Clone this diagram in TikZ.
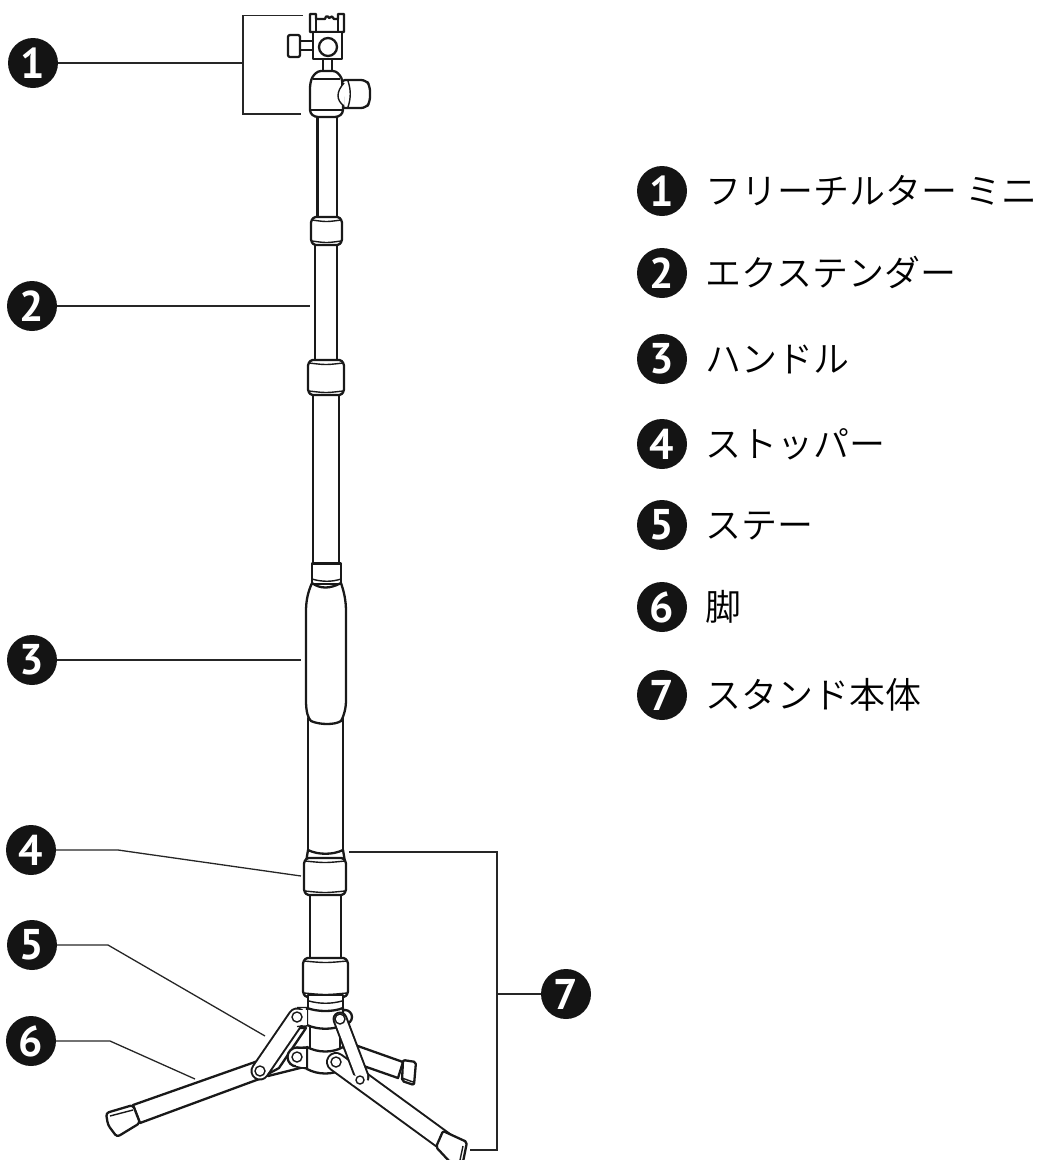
\documentclass[tikz,border=0pt]{standalone}
\usepackage{fontspec}
\newfontfamily\cjk{Noto Sans CJK JP DemiLight}
\newfontfamily\numfont{PT Sans}[BoldFont={PT Sans Bold}]
\usetikzlibrary{calc}
\tikzset{
  bubble/.style={circle,fill=black!92,text=white,minimum size=50pt,inner sep=0pt,font=\numfont\bfseries\fontsize{43}{43}\selectfont},
  itemlabel/.style={anchor=base west,inner sep=0pt,font=\cjk\fontsize{36}{36}\selectfont},
  leader/.style={draw=black!85,line width=1.3pt},
  part/.style={draw=black!90,line width=2.3pt,fill=white,line join=round},
  thin part/.style={draw=black!90,line width=1.4pt},
}
\newcommand{\collarpart}[4]{%
  \draw[part,rounded corners=1.5pt] ({#1+3},{#3}) -- ({#2-3},{#3}) -- ({#2},{#3+4}) -- ({#2},{#4-4}) -- ({#2-3},{#4}) -- ({#1+3},{#4}) -- ({#1},{#4-4}) -- ({#1},{#3+4}) -- cycle;
  \draw[thin part] ({#1+1},{#3+3}) .. controls ({(#1+#2)/2},{#3+5}) .. ({#2-1},{#3+3});
  \draw[thin part] ({#1+1},{#4-4}) .. controls ({(#1+#2)/2},{#4-2}) .. ({#2-1},{#4-4});
}
\newcommand{\tubepart}[4]{\draw[part] (#1,#3) rectangle (#2,#4);}
\newcommand{\barpart}[3]{%
  \draw[line width=#3+4pt,black!90,line cap=round] #1 -- #2;
  \draw[line width=#3,white,line cap=round] #1 -- #2;
}
\begin{document}
\begin{tikzpicture}[x=1pt,y=-1pt]
\useasboundingbox (0,0) rectangle (1040,1160);
% ---- leaders' free ends
\coordinate (b1a) at (303,15.5); \coordinate (b1b) at (243,15.5);
\coordinate (b1c) at (243,114);  \coordinate (b1d) at (301,114);
\coordinate (b1m) at (243,63);
\coordinate (e2) at (310,306);
\coordinate (e3) at (301,660);
\coordinate (k4) at (118,850); \coordinate (e4) at (301,876);
\coordinate (k5) at (108,945); \coordinate (e5) at (265,1036);
\coordinate (k6) at (110,1041); \coordinate (e6) at (195,1079);
\coordinate (b7a) at (349,852); \coordinate (b7b) at (497,852);
\coordinate (b7c) at (497,1150); \coordinate (b7d) at (470,1150);
\coordinate (b7m) at (497,994);
% ---- tubes
\tubepart{317.5}{337}{110}{220}
\tubepart{315}{337}{243}{362}
\tubepart{313}{339}{392}{566}
\tubepart{308}{343}{718}{854}
\tubepart{310}{341}{892}{962}
% head
\draw[part] (310,14) -- (316,14) -- (316,19) -- (325,19) -- (326,16.5) -- (328,16.5) -- (329,18) -- (332,16.5) -- (334,19) -- (338,19) -- (338,14) -- (344,14) -- (344,32) -- (310,32) -- cycle;
\draw[thin part] (316,19) -- (316,32) (338,19) -- (338,32);
\draw[part] (300,41) rectangle (313,50);
\draw[part,rounded corners=2pt] (288,35) rectangle (300,57);
\draw[part] (323,57) rectangle (332,72);
\draw[part] (313,32) rectangle (342,59);
\draw[part] (328,47) circle (9);
\draw[part,rounded corners=5pt] (340,80) -- (366,80) -- (370,86) -- (370,102) -- (366,108) -- (340,108) -- cycle;
\draw[part,rounded corners=3pt] (318,71) -- (336,71) -- (342,78) -- (343,100) -- (343,113) -- (338,117) -- (315,117) -- (310,113) -- (310,85) -- (312,77) -- cycle;
\draw[thin part] (313,79) -- (340,79);
\draw[thin part] (311,110) -- (342,110);
\draw[thin part,fill=white] (344,83) .. controls (336,92) and (336,100) .. (344,106);
\draw[thin part] (348,81) .. controls (351,90) and (351,98) .. (348,107);
% collars
\collarpart{311}{342}{217}{245}
\collarpart{308}{344}{360}{395}
% handle
\draw[part] (312,563.5) rectangle (341,584);
\draw[part] (312,583) .. controls (308,592) and (306,600) .. (306,612) -- (306,700) .. controls (306,712) and (308,718) .. (311,721) .. controls (320,725) and (335,725) .. (341,721) .. controls (344,716) and (346,708) .. (346,700) -- (346,612) .. controls (346,600) and (344,592) .. (341,583) .. controls (330,589) and (320,589) .. (312,583) -- cycle;
\draw[thin part] (312,579) .. controls (322,582) and (332,582) .. (341,579);
% ring + lower collars
\draw[part] (308,850) .. controls (318,855) and (333,855) .. (343,850) -- (345,862) -- (306,862) -- cycle;
\collarpart{304}{346}{858}{895}
\collarpart{303}{348}{958}{997}
% back right leg
\draw[part] (355,1045) -- (403,1062) -- (398,1078) -- (355,1063) -- cycle;
\draw[part,rounded corners=2pt] (403,1060) -- (416,1062) -- (414,1085) -- (402,1081) -- cycle;
\draw[thin part] (402,1078) -- (413,1082);
% hub
\draw[part] (308,995) rectangle (343,1012);
\draw[thin part] (309,1001) .. controls (320,1004) and (331,1004) .. (342,1001);
\draw[part] (310,1026) rectangle (340,1052);
\draw[part] (345,1017) circle (7);
\draw[part] (307,1008) .. controls (318,1012) and (333,1012) .. (343,1008) -- (343,1025) .. controls (333,1030) and (318,1030) .. (307,1025) -- cycle;
% left leg
\draw[part] (292,1048) -- (308,1048) -- (308,1066) -- (268,1076) -- (255,1062) -- cycle;
\draw[part] (255,1062) -- (133,1105) -- (140,1123) -- (262,1078) -- cycle;
\draw[part,rounded corners=3pt] (106,1113) -- (133,1105) -- (140,1123) -- (117,1137) -- (108,1125) -- cycle;
\draw[thin part] (110,1116) -- (133,1110);
% rear strut of left stay
\draw[part] (297,1028) -- (306,1028) -- (279,1068) -- (268,1074) -- cycle;
% lower hub
\draw[part] (307,1047) .. controls (318,1053) and (333,1053) .. (343,1047) -- (352,1056) -- (343,1069) .. controls (333,1075) and (318,1075) .. (307,1069) -- cycle;
\draw[part] (297,1057) circle (9.5);
\draw[draw=none,fill=white] (296,1049) rectangle (305.8,1067);
\draw[thin part] (296,1047.5) -- (307,1047) (296,1066.5) -- (307,1069);
\draw[thin part,fill=white] (297,1057) circle (5);
% upper pin lug on the left and left stay
\barpart{(297,1017)}{(260,1071)}{15pt}
\draw[draw=none,fill=white] (298,1009.5) rectangle (307,1024.5);
\draw[thin part] (297,1007.5) -- (308,1007.5) (297,1026.5) -- (307,1026);
\draw[thin part,fill=white] (297,1017) circle (5);
\draw[thin part,fill=white] (260,1071) circle (5);
% right front leg + right stay
\barpart{(336,1062)}{(447,1143)}{16pt}
\draw[part,rounded corners=2pt] (443,1131) -- (467,1142) -- (463,1162) -- (450,1162) -- (436,1147) -- cycle;
\draw[thin part] (463,1146) -- (460,1160);
\draw[thin part,fill=white] (336,1062) circle (5);
\barpart{(340,1019)}{(362,1077)}{11pt}
\draw[draw=none,fill=white] (350,1074) -- (372,1082) -- (366,1088) -- (352,1084) -- cycle;
\draw[thin part,fill=white] (340,1019) circle (5);
\draw[thin part,fill=white] (360,1080) circle (4);
% ---- bubbles on the left
\node[bubble] (n1) at (33,63) {1};
\node[bubble] (n2) at (32,306) {2};
\node[bubble] (n3) at (32,660) {3};
\node[bubble] (n4) at (31,850) {4};
\node[bubble] (n5) at (32,945) {5};
\node[bubble] (n6) at (31,1041) {6};
\node[bubble] (n7) at (566,994) {7};
% ---- leaders
\draw[leader] (n1) -- (b1m);
\draw[leader] (b1a) -- (b1b) -- (b1c) -- (b1d);
\draw[leader] (n2) -- (e2);
\draw[leader] (n3) -- (e3);
\draw[leader] (n4) -- (k4) -- (e4);
\draw[leader] (n5) -- (k5) -- (e5);
\draw[leader] (n6) -- (k6) -- (e6);
\draw[leader] (n7) -- (b7m);
\draw[leader] (b7a) -- (b7b) -- (b7c) -- (b7d);
% ---- legend
\node[bubble] (m1) at (662,191) {1};
\node[bubble] (m2) at (662,273) {2};
\node[bubble] (m3) at (662,359) {3};
\node[bubble] (m4) at (662,444) {4};
\node[bubble] (m5) at (662,525) {5};
\node[bubble] (m6) at (662,607) {6};
\node[bubble] (m7) at (662,695) {7};
\node[itemlabel] (t1) at (705,204) {フリーチルター ミニ};
\node[itemlabel] (t2) at (705,286) {エクステンダー};
\node[itemlabel] (t3) at (705,372) {ハンドル};
\node[itemlabel] (t4) at (705,457) {ストッパー};
\node[itemlabel] (t5) at (705,538) {ステー};
\node[itemlabel] (t6) at (705,620) {脚};
\node[itemlabel] (t7) at (705,708) {スタンド本体};
\end{tikzpicture}
\end{document}
